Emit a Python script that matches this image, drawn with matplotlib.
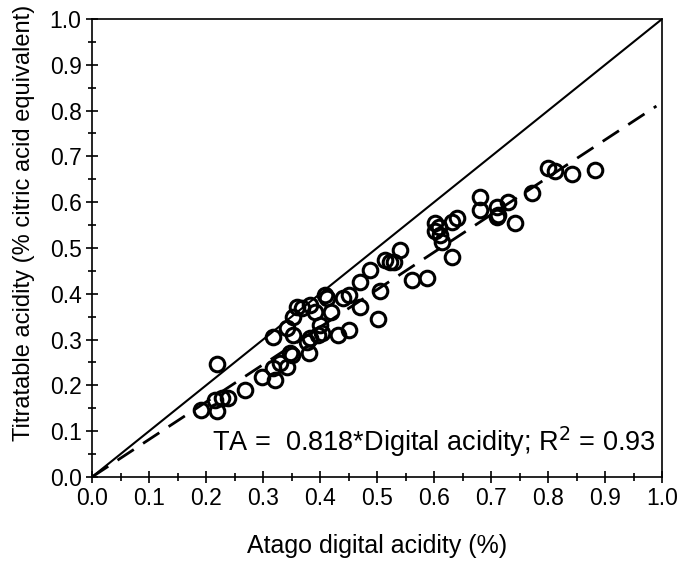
import numpy as np
import matplotlib.pyplot as plt
from matplotlib.ticker import MultipleLocator

plt.rcParams['font.family'] = ['Liberation Sans', 'DejaVu Sans']

# Atago digital acidity (%) vs titratable acidity (% citric acid equivalent)
digital = [0.191, 0.216, 0.220, 0.220, 0.228, 0.239, 0.268, 0.298, 0.318, 0.318,
           0.321, 0.330, 0.342, 0.342, 0.347, 0.350, 0.353, 0.353, 0.368, 0.360,
           0.377, 0.380, 0.382, 0.382, 0.391, 0.397, 0.400, 0.403, 0.409, 0.412,
           0.420, 0.432, 0.440, 0.450, 0.450, 0.470, 0.470, 0.488, 0.502, 0.505,
           0.514, 0.523, 0.529, 0.540, 0.561, 0.587, 0.602, 0.602, 0.611, 0.614,
           0.608, 0.631, 0.631, 0.640, 0.681, 0.681, 0.710, 0.713, 0.730, 0.742,
           0.771, 0.800, 0.812, 0.842, 0.882, 0.711]
titratable = [0.146, 0.167, 0.246, 0.143, 0.172, 0.172, 0.190, 0.219, 0.237, 0.306,
              0.212, 0.248, 0.241, 0.325, 0.270, 0.266, 0.350, 0.310, 0.368, 0.372,
              0.295, 0.270, 0.303, 0.375, 0.361, 0.310, 0.332, 0.314, 0.397, 0.390,
              0.361, 0.310, 0.390, 0.397, 0.321, 0.426, 0.372, 0.452, 0.346, 0.405,
              0.474, 0.470, 0.470, 0.496, 0.430, 0.434, 0.554, 0.536, 0.528, 0.514,
              0.545, 0.557, 0.481, 0.565, 0.612, 0.583, 0.590, 0.572, 0.601, 0.554,
              0.621, 0.674, 0.667, 0.662, 0.670, 0.568]
slope = 0.818
fit_x = [0.0, 0.99]

fig = plt.figure(figsize=(6.84, 5.65), dpi=100)
ax = fig.add_axes([0.1345, 0.1558, 0.8335, 0.8106])

ax.plot([0, 1], [0, 1], color='black', lw=1.5)
ax.plot(fit_x, [slope * v for v in fit_x], color='black', lw=2, dashes=(7, 4))
ax.plot(digital, titratable, 'o', ms=10.5, mfc='none', mec='black', mew=2.2)

ax.set_xlim(0, 1)
ax.set_ylim(0, 1)
ax.xaxis.set_major_locator(MultipleLocator(0.1))
ax.yaxis.set_major_locator(MultipleLocator(0.1))
ax.xaxis.set_minor_locator(MultipleLocator(0.05))
ax.yaxis.set_minor_locator(MultipleLocator(0.05))
ax.tick_params(which='major', direction='inout', length=8, width=1.2, labelsize=16.5)
ax.tick_params(which='minor', direction='inout', length=6, width=1.2)
for s in ax.spines.values():
    s.set_linewidth(1.2)

ax.set_xlabel('Atago digital acidity (%)', fontsize=18, labelpad=17)
ax.set_ylabel('Titratable acidity (% citric acid equivalent)', fontsize=17)
ax.yaxis.set_label_coords(-0.1, 0.555)

ax.text(0.988, 0.076, 'TA =  0.818*Digital acidity; R$^2$ = 0.93',
        ha='right', va='center', fontsize=19.5)

plt.savefig('out.png')
